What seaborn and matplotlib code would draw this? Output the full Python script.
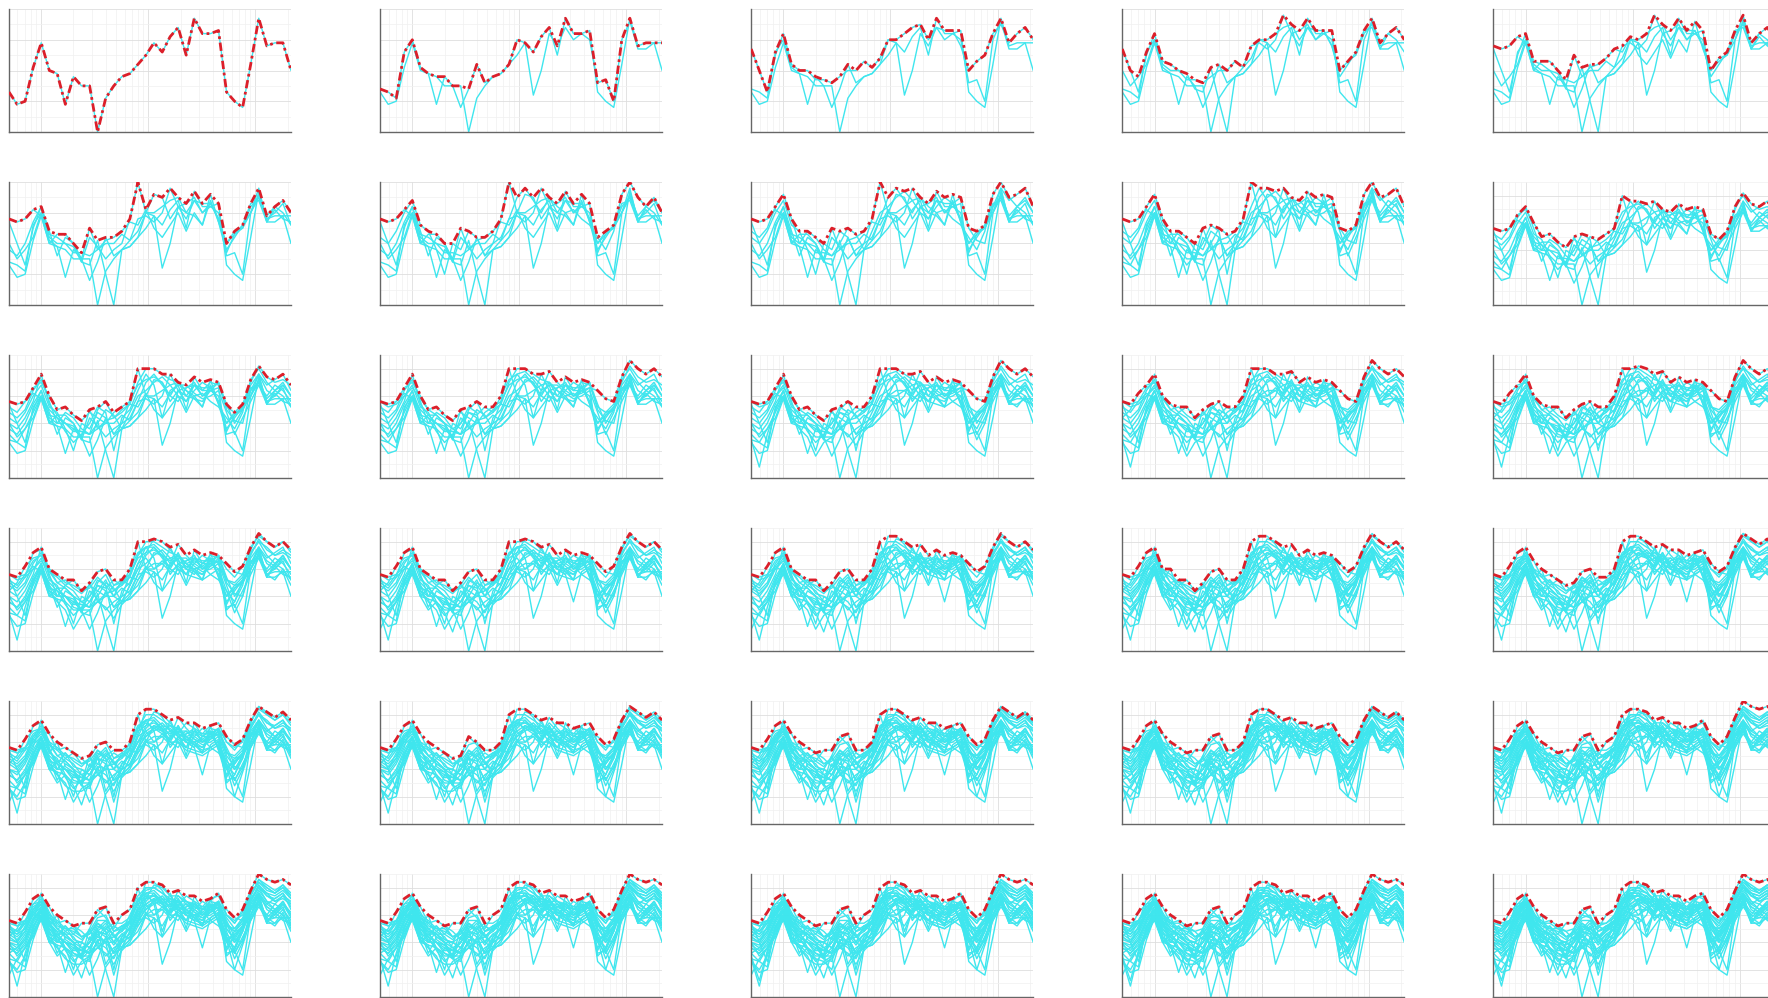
import numpy as np
import pandas as pd
import matplotlib
matplotlib.use("Agg")
import matplotlib.pyplot as plt
import seaborn as sns
from matplotlib.ticker import LogLocator, MultipleLocator, NullFormatter

# Quarter-octave band centre frequencies (Hz)
freq = [5.00, 5.95, 7.07, 8.41, 10.0, 11.9, 14.1, 16.8, 20.0, 23.8, 28.3, 33.6,
        40.0, 47.6, 56.6, 67.3, 80.0, 95.1, 113, 135, 160, 190, 226, 269,
        320, 381, 453, 538, 640, 761, 905, 1076, 1280, 1522, 1810, 2153]

# Band levels of each record, in the order they are accumulated
trace_01 = [33,29,30,41,49,40,39,29,38,35,35,20,31,35,38,39,42,45,49,46,51,54,45,57,52,52,53,33,30,28,42,57,48,49,49,40]
trace_02 = [34,33,31,46,50,41,39,38,35,35,28,34,42,36,38,39,42,50,49,32,40,52,48,54,50,52,50,36,37,30,50,56,47,47,49,49]
trace_03 = [47,40,33,45,52,42,40,40,37,37,36,38,40,40,43,41,44,50,50,52,54,55,50,54,53,53,48,40,43,45,52,55,49,52,54,50]
trace_04 = [40,35,38,42,50,43,42,40,39,34,33,41,30,20,38,41,48,49,47,50,58,52,53,55,50,53,48,38,42,46,53,54,47,52,50,46]
trace_05 = [48,47,48,51,49,40,43,43,40,35,45,38,41,42,44,47,46,51,45,42,46,50,44,50,46,56,47,40,44,45,50,58,47,51,48,47]
trace_06 = [38,36,40,47,52,44,36,42,40,34,42,39,35,38,40,48,60,50,56,55,48,52,50,49,46,54,47,37,43,46,50,55,48,50,53,46]
trace_07 = [42,40,44,50,54,46,44,38,30,40,38,44,42,36,40,42,48,55,58,54,50,55,52,50,51,48,46,42,38,44,56,60,55,52,55,50]
trace_08 = [44,42,45,52,56,48,40,44,42,38,36,40,45,43,38,44,50,52,55,57,54,50,48,52,55,53,55,45,41,40,52,58,54,56,58,52]
trace_09 = [36,33,38,44,50,45,42,37,33,36,40,46,44,30,42,45,52,58,54,42,52,54,54,51,49,50,52,44,36,42,48,54,50,54,52,48]
trace_10 = [46,44,48,53,55,50,45,46,43,41,44,42,40,44,46,48,54,56,57,55,50,48,53,54,52,55,54,46,44,47,55,61,57,55,56,54]
trace_11 = [40,38,42,48,58,47,43,40,38,37,36,45,48,42,45,47,55,60,60,58,56,55,52,49,48,52,55,47,40,45,54,58,52,50,54,50]
trace_12 = [48,46,47,50,53,49,45,43,40,38,40,44,43,46,44,50,56,58,59,56,52,59,55,52,50,51,53,52,49,48,57,63,60,58,60,57]
trace_13 = [34,24,36,45,52,42,38,35,28,33,35,38,36,32,37,40,46,50,52,52,49,51,48,47,46,48,50,42,34,40,50,55,48,46,50,44]
trace_14 = [42,45,51,54,55,49,47,44,46,42,43,47,44,40,46,44,52,54,50,53,51,56,50,48,52,54,52,46,45,48,56,60,58,55,57,55]
trace_15 = [38,36,39,46,51,44,40,40,36,35,38,42,46,40,38,44,50,56,61,60,57,53,51,50,48,51,54,35,38,46,52,57,53,51,55,50]
trace_16 = [45,43,47,56,57,50,48,45,44,42,44,49,50,44,45,48,55,58,58,55,53,55,52,53,51,53,55,50,47,51,58,62,60,58,60,56]
trace_17 = [28,34,38,44,48,40,35,38,34,27,36,40,38,34,40,42,48,52,54,56,55,52,50,48,38,49,51,40,36,41,49,54,50,49,52,47]
trace_18 = [43,41,44,51,55,47,42,46,41,40,38,44,47,42,40,46,53,62,62,59,54,52,54,51,50,52,54,48,42,46,55,60,57,56,58,54]
trace_19 = [40,39,43,49,52,46,50,41,39,37,40,45,32,37,42,45,50,54,56,54,51,56,51,49,47,48,50,43,40,44,53,58,54,52,54,51]
trace_20 = [47,46,48,52,54,53,47,48,46,44,41,47,45,47,47,49,55,57,55,54,56,53,57,55,53,56,57,50,48,50,57,63,61,59,61,58]
trace_21 = [33,30,35,43,49,41,38,34,32,32,34,41,40,28,38,41,47,53,55,53,50,50,47,46,45,47,49,41,30,39,48,53,49,47,51,45]
trace_22 = [41,40,46,52,55,48,45,42,40,40,45,52,49,44,46,47,52,57,57,56,53,57,54,52,50,53,55,47,44,48,55,61,58,57,59,56]
trace_23 = [44,43,45,51,54,47,44,43,43,47,47,50,53,46,44,48,55,59,60,58,55,55,55,54,52,53,54,49,45,49,57,62,59,58,61,57]
trace_24 = [36,38,41,48,52,45,41,38,36,34,37,43,40,36,41,43,49,54,56,44,52,52,50,48,47,49,51,42,37,44,52,57,53,51,54,49]
trace_25 = [45,44,47,54,57,51,46,45,45,42,43,48,48,45,50,52,57,60,60,61,57,57,55,53,52,55,58,50,47,52,59,65,63,62,63,61]
trace_26 = [39,37,41,48,53,46,42,40,39,37,40,44,43,39,43,45,51,56,57,54,51,53,51,50,49,51,53,45,41,46,54,59,55,54,57,53]
trace_27 = [42,40,44,50,55,48,44,43,41,40,42,46,45,42,45,47,54,58,58,57,54,55,53,52,50,52,54,47,43,48,56,61,58,57,59,55]
trace_28 = [35,26,37,45,50,42,39,36,34,33,30,40,39,35,39,41,47,52,54,52,49,50,48,46,45,47,49,34,36,42,50,55,51,50,53,48]
trace_29 = [46,45,48,53,56,50,47,47,45,44,45,50,49,46,47,50,56,59,59,58,55,56,54,53,52,57,56,49,46,50,57,63,60,59,61,57]
trace_30 = [41,39,43,49,54,47,43,41,40,39,41,45,44,41,44,46,52,57,57,56,53,54,52,51,49,51,53,46,42,47,55,60,57,56,58,54]

traces = [trace_01, trace_02, trace_03, trace_04, trace_05, trace_06, trace_07, trace_08,
          trace_09, trace_10, trace_11, trace_12, trace_13, trace_14, trace_15, trace_16,
          trace_17, trace_18, trace_19, trace_20, trace_21, trace_22, trace_23, trace_24,
          trace_25, trace_26, trace_27, trace_28, trace_29, trace_30]

sns.set_style("white")

W, H = 1768, 998
fig = plt.figure(figsize=(W / 100, H / 100), dpi=100)

CYAN = "#3FE6EE"
RED = "#DC1F2A"
N_COLS = 5
AX_W, AX_H = 282, 123

for p in range(len(traces)):
    r, c = divmod(p, N_COLS)
    left = 9 + 371.1 * c
    top = 9 + 173.0 * r
    ax = fig.add_axes([left / W, 1 - (top + AX_H) / H, AX_W / W, AX_H / H])

    shown = traces[: p + 1]
    long = pd.DataFrame({
        "freq": np.tile(freq, len(shown)),
        "level": np.concatenate([np.asarray(t, float) for t in shown]),
        "trace": np.repeat(np.arange(len(shown)), len(freq)),
    })
    sns.lineplot(data=long, x="freq", y="level", units="trace", estimator=None,
                 color=CYAN, lw=1.0, ax=ax, legend=False, zorder=2)

    # running maximum over all records so far
    env = long.groupby("freq", as_index=False)["level"].max()
    sns.lineplot(data=env, x="freq", y="level", color=RED, lw=2.0,
                 linestyle=(0, (3.0, 1.3, 1.0, 1.3)), ax=ax, zorder=3)

    ax.set_xscale("log")
    ax.set_xlim(freq[0], freq[-1])
    lo = 5 * np.floor(long["level"].min() / 5)
    hi = 5 * np.ceil(long["level"].max() / 5)
    ax.set_ylim(lo, hi)

    ax.xaxis.set_major_locator(LogLocator(base=10))
    ax.xaxis.set_minor_locator(LogLocator(base=10, subs=np.arange(2, 10)))
    ax.xaxis.set_minor_formatter(NullFormatter())
    ax.yaxis.set_major_locator(MultipleLocator(10))
    ax.yaxis.set_minor_locator(MultipleLocator(5))

    ax.set_axisbelow(True)
    ax.grid(which="major", color="#dedede", lw=0.6)
    ax.grid(which="minor", color="#f0f0f0", lw=0.5)

    ax.tick_params(which="major", direction="in", length=3, width=0.8,
                   color="#4d4d4d", labelleft=False, labelbottom=False)
    ax.tick_params(which="minor", direction="in", length=0)
    ax.set(xlabel="", ylabel="")
    for side in ("top", "right"):
        ax.spines[side].set_visible(False)
    for side in ("left", "bottom"):
        ax.spines[side].set_color("#666666")
        ax.spines[side].set_linewidth(1.0)

fig.savefig("out.png", dpi=100, facecolor="white")
